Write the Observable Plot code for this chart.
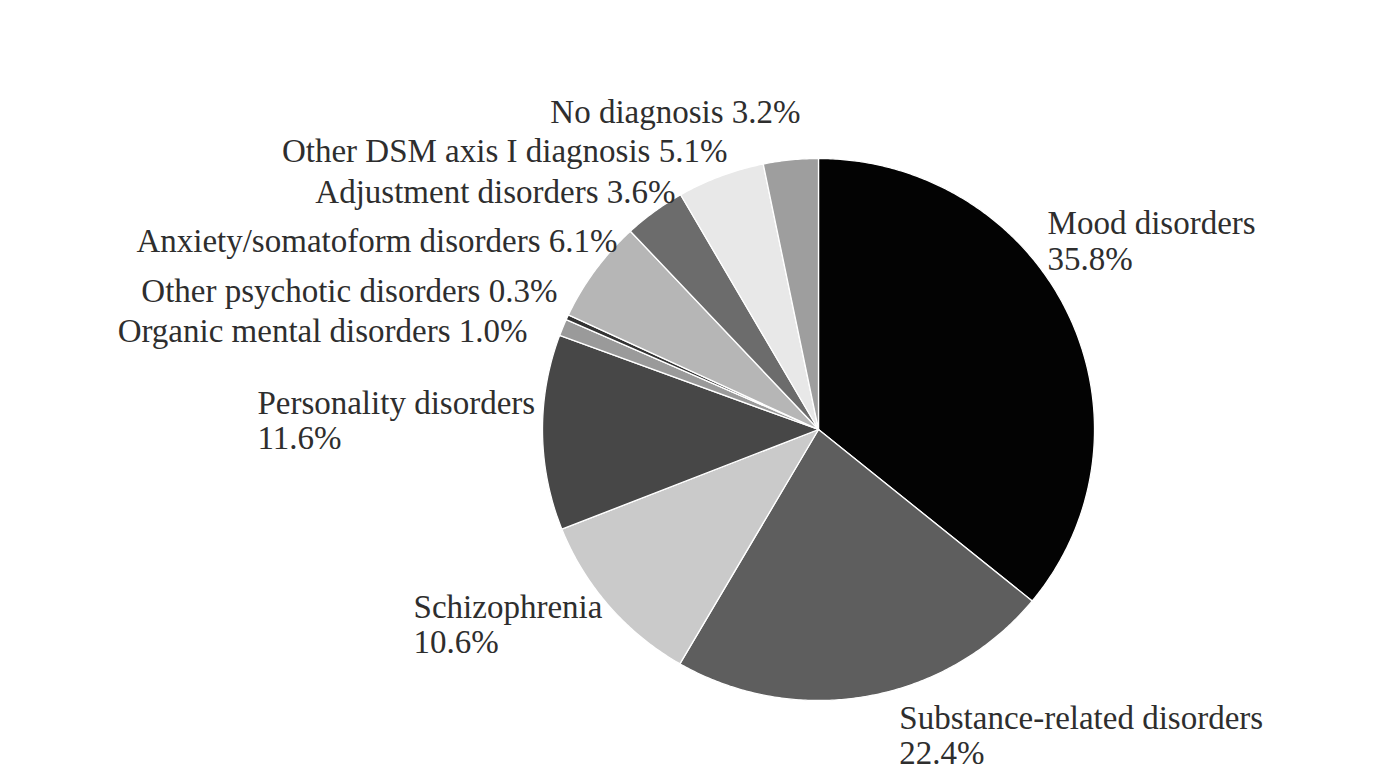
<!DOCTYPE html>
<html>
<head>
<meta charset="utf-8">
<script src="https://cdn.jsdelivr.net/npm/d3@7"></script>
<script src="https://cdn.jsdelivr.net/npm/@observablehq/plot@0.6"></script>
<style>
  html, body { margin: 0; padding: 0; background: #ffffff; }
  #chart { width: 1394px; height: 778px; overflow: hidden; }
  svg { font-family: "Liberation Serif", "DejaVu Serif", serif; }
</style>
</head>
<body>
<div id="chart"></div>
<script>
// ---- data (clockwise from 12 o'clock) ----
const categories = [
  "Mood disorders",
  "Substance-related disorders",
  "Schizophrenia",
  "Personality disorders",
  "Organic mental disorders",
  "Other psychotic disorders",
  "Anxiety/somatoform disorders",
  "Adjustment disorders",
  "Other DSM axis I diagnosis",
  "No diagnosis"
];
const percents = [35.8, 22.4, 10.6, 11.6, 1.0, 0.3, 6.1, 3.6, 5.1, 3.2];
const sliceColors = ["#030303", "#5e5e5e", "#cacaca", "#474747", "#9a9a9a", "#333333", "#b6b6b6", "#6c6c6c", "#e8e8e8", "#9e9e9e"];

// label layout: two-line labels break after the name; anchor + position in pie units (radius = 1)
const twoLine = [true, true, true, true, false, false, false, false, false, false];
const labelAnchor = ["start", "start", "start", "start", "end", "end", "end", "end", "end", "end"];
const labelX = [0.830, 0.293, -1.467, -2.033, -1.054, -0.946, -0.728, -0.518, -0.330, -0.065];
const labelY = [0.697, -1.127, -0.718, 0.035, 0.362, 0.509, 0.694, 0.875, 1.026, 1.170];

// ---- build slices with d3.pie ----
const arcs = d3.pie().sort(null).startAngle(0).endAngle(2 * Math.PI)(percents);
const polys = [];
arcs.forEach((a, i) => {
  polys.push({k: i, x: 0, y: 0, c: sliceColors[i]});
  const steps = Math.max(2, Math.ceil((a.endAngle - a.startAngle) / (Math.PI / 360)));
  for (let s = 0; s <= steps; s++) {
    const t = a.startAngle + (a.endAngle - a.startAngle) * s / steps;
    polys.push({k: i, x: Math.sin(t), y: Math.cos(t), c: sliceColors[i]});
  }
});

const labels = categories.map((name, i) => ({
  text: twoLine[i] ? `${name}\n${percents[i].toFixed(1)}%` : `${name} ${percents[i].toFixed(1)}%`,
  x: labelX[i],
  y: labelY[i],
  anchor: labelAnchor[i]
}));

const chart = Plot.plot({
  width: 1394,
  height: 778,
  margin: 0,
  x: {domain: [-1, 1], range: [542, 1094], axis: null},
  y: {domain: [-1, 1], range: [700, 158], axis: null},
  color: {type: "identity"},
  style: {background: "#ffffff", fontFamily: "'Liberation Serif', serif"},
  marks: [
    Plot.line(polys, {x: "x", y: "y", z: "k", fill: "c", stroke: "#ffffff", strokeWidth: 1.3, curve: "linear-closed", strokeLinejoin: "round"}),
    Plot.text(labels.filter(d => d.anchor === "start"), {x: "x", y: "y", text: "text", textAnchor: "start", lineAnchor: "middle", lineHeight: 1.08, fontSize: 33, fill: "#2e2e2e"}),
    Plot.text(labels.filter(d => d.anchor === "end"), {x: "x", y: "y", text: "text", textAnchor: "end", lineAnchor: "middle", fontSize: 33, fill: "#2e2e2e"})
  ]
});
document.getElementById("chart").appendChild(chart);
</script>
</body>
</html>
